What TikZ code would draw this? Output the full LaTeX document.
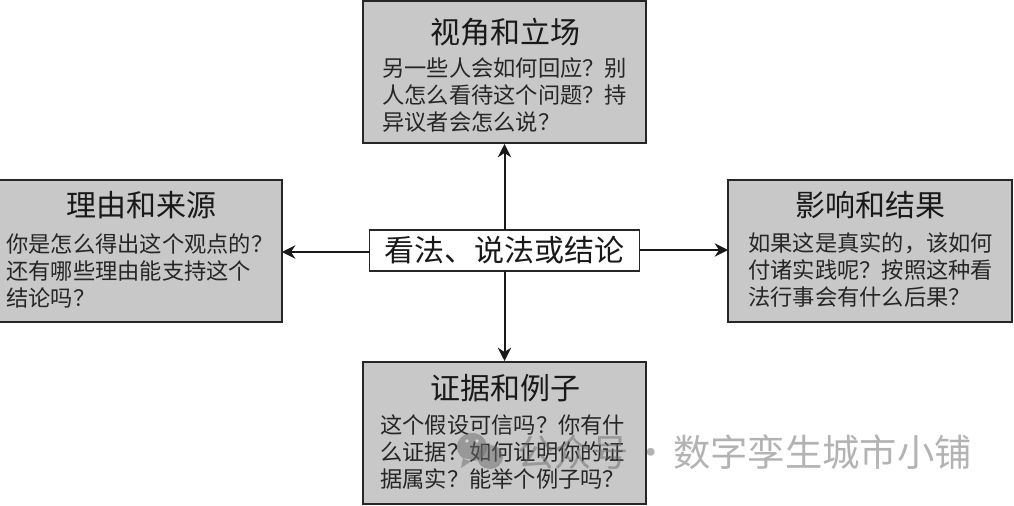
\documentclass[tikz,border=0pt]{standalone}
\usepackage{fontspec}
\setmainfont{Noto Sans CJK SC}
\usetikzlibrary{arrows.meta}
\definecolor{boxgray}{RGB}{200,200,200}
\definecolor{edgegray}{RGB}{38,38,38}
\definecolor{markgray}{RGB}{105,105,105}
\tikzset{
  panel/.style={draw=edgegray,line width=1.6pt,fill=boxgray,inner sep=0pt,outer sep=0pt,anchor=north west,minimum height=106.5pt},
  keybox/.style={draw=edgegray,line width=1.4pt,fill=white,inner sep=0pt,outer sep=0pt,minimum width=202.5pt,minimum height=30.75pt},
  headtext/.style={inner sep=0pt,font=\fontsize{22.5}{27}\selectfont,text=black!90},
  bodytext/.style={inner sep=0pt,anchor=north west,align=left,font=\fontsize{16.7}{20.25}\selectfont,text=black!85},
  link/.style={draw=black!90,line width=1.5pt,-{Stealth[length=10pt,width=10pt]}},
  stamp/.style={inner sep=0pt,anchor=west,text=markgray,opacity=.5,font=\fontsize{28}{32}\selectfont}
}
\begin{document}
\begin{tikzpicture}[x=0.75pt,y=-0.75pt]
\useasboundingbox (0,0) rectangle (1014,506);
\fill[white] (0,0) rectangle (1014,506);
\node[panel,minimum width=212.25pt] (top) at (363,1) {};
\node[panel,minimum width=212.25pt] (left) at (-1,180) {};
\node[panel,minimum width=213pt] (right) at (728,180) {};
\node[panel,minimum width=212.25pt] (bottom) at (363,362) {};
\node[keybox] (key) at (504.5,250.5) {};
\node[headtext] (keytext) at (504.5,250.5) {看法、说法或结论};
\coordinate (keyL) at (369.5,252);
\coordinate (keyR) at (639.5,250);
\coordinate (leftM) at (282,252);
\coordinate (rightM) at (728,250);
\coordinate (topM) at (504.5,144);
\coordinate (bottomM) at (504.5,361);
\draw[link] (key.north) -- (topM);
\draw[link] (key.south) -- (bottomM);
\draw[link] (keyL) -- (leftM);
\draw[link,line width=1.2pt] (keyR) -- (rightM);
\node[headtext] (toph) at (505,32) {视角和立场};
\node[bodytext] (topb) at (382,57) {另一些人会如何回应？别\\人怎么看待这个问题？持\\异议者会怎么说？};
\node[headtext] (lefth) at (141,205) {理由和来源};
\node[bodytext] (leftb) at (6,233) {你是怎么得出这个观点的？\\还有哪些理由能支持这个\\结论吗？};
\node[headtext] (righth) at (870,205) {影响和结果};
\node[bodytext] (rightb) at (748,232.5) {如果这是真实的，该如何\\付诸实践呢？按照这种看\\法行事会有什么后果？};
\node[headtext] (bottomh) at (505,388) {证据和例子};
\node[bodytext] (bottomb) at (380,414.5) {这个假设可信吗？你有什\\么证据？如何证明你的证\\据属实？能举个例子吗？};
\fill[markgray,opacity=.5] (472,447) ellipse [x radius=15,y radius=14] (463,458) -- (461,468) -- (473,460) -- cycle;
\fill[markgray,opacity=.5] (490,457) ellipse [x radius=13,y radius=12];
\fill[white,opacity=.6] (467,441) circle (1.8) (477,441) circle (1.8);
\node[stamp] (mark) at (517,452) {公众号\kern-3.75pt\ ·\ \kern-3.75pt 数字孪生城市小铺};
\end{tikzpicture}
\end{document}
